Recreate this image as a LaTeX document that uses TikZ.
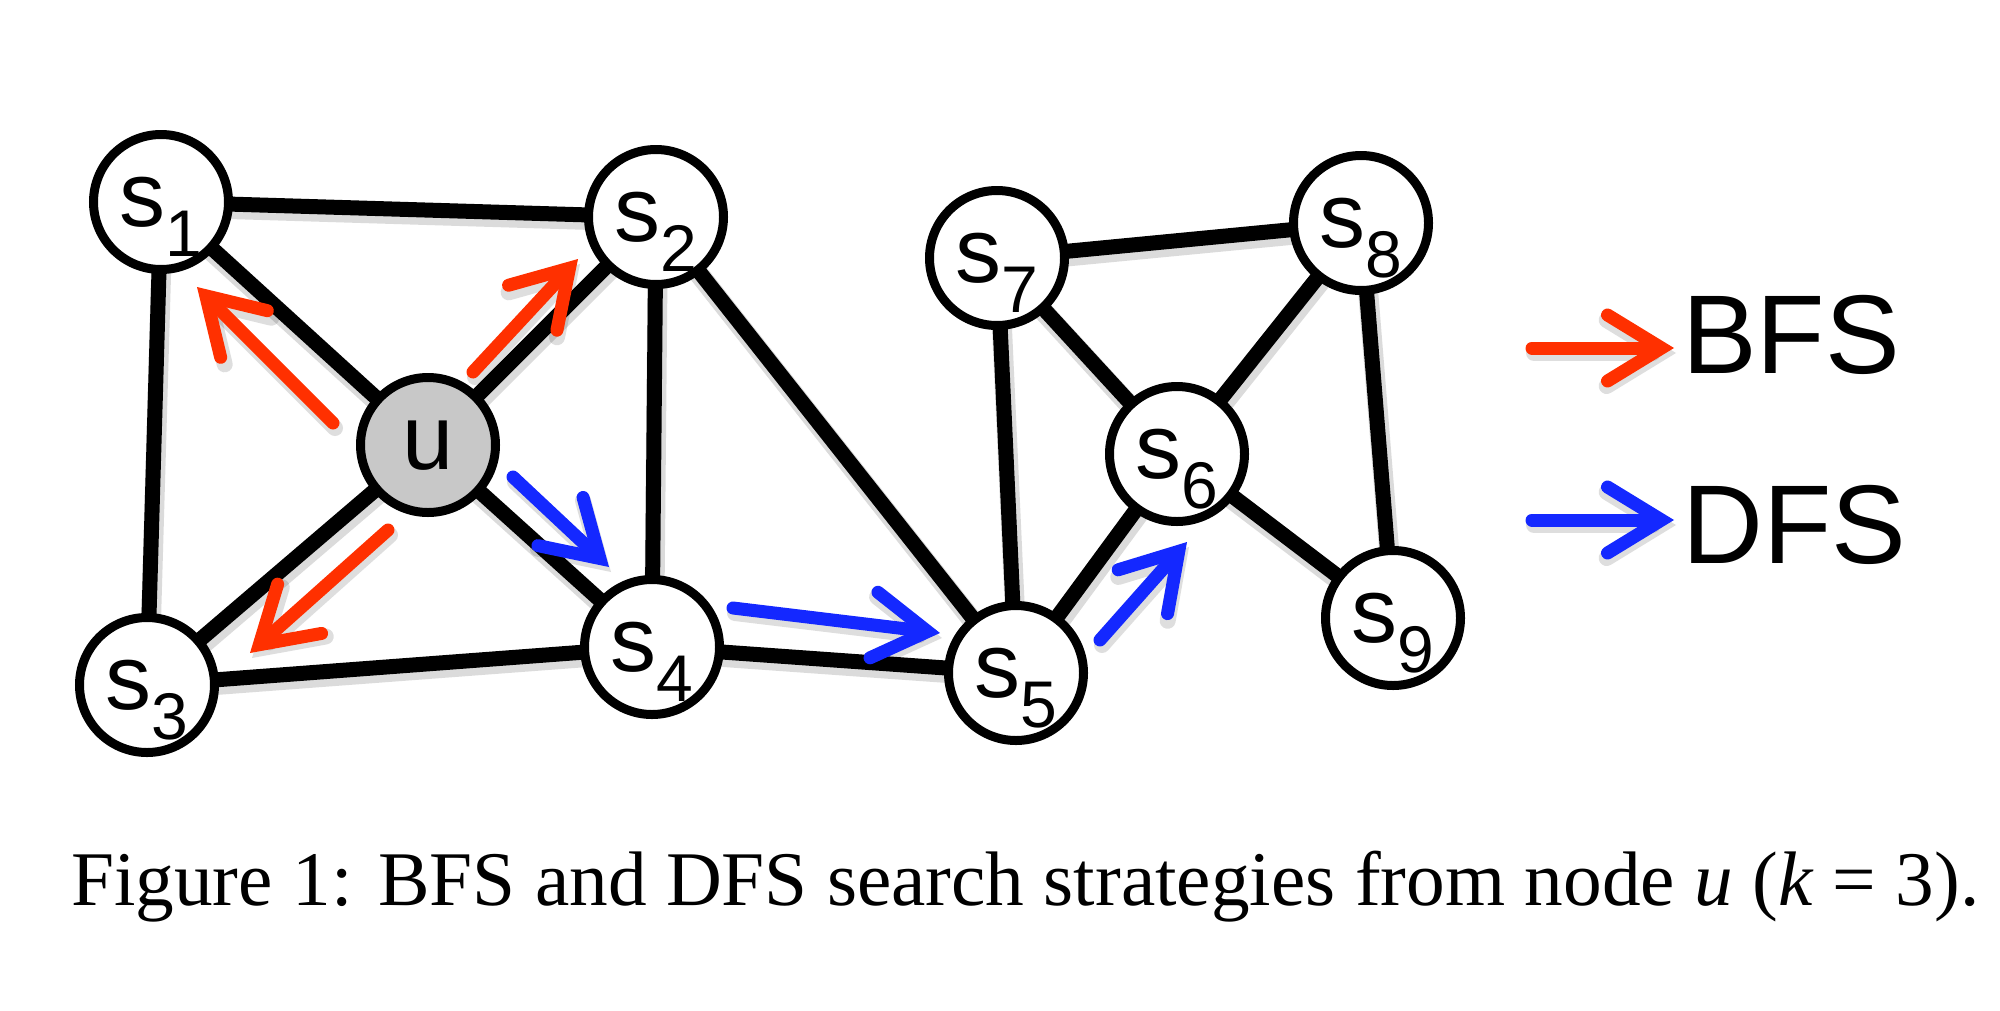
\documentclass[tikz,border=0pt]{standalone}
\usepackage{fontspec}
\setmainfont{Liberation Serif}
\newfontfamily\arialf{Liberation Sans}
\usetikzlibrary{arrows.meta}
\definecolor{bfsred}{RGB}{255,48,0}
\definecolor{dfsblue}{RGB}{20,40,255}
\definecolor{ugray}{RGB}{200,200,200}
\pgfdeclarelayer{bg}
\pgfsetlayers{bg,main}
\newcommand{\slbl}[1]{s\raisebox{-30pt}{\fontsize{66}{66}\selectfont #1}}
\newcommand{\edg}[2]{%
  \draw[edgeshadow] ([xshift=2pt,yshift=-5pt]#1.center) -- ([xshift=2pt,yshift=-5pt]#2.center);%
  \draw[edge] (#1) -- (#2);}
\newcommand{\trv}[3]{%
  \draw[#1,draw=black,opacity=0.13,line width=16pt,-{Straight Barb[length=54pt,width=66pt,line width=16pt,line cap=round,line join=miter]}]
    ([xshift=2pt,yshift=-5pt]#2) -- ([xshift=2pt,yshift=-5pt]#3);%
  \draw[#1] (#2) -- (#3);}
\begin{document}
\begin{tikzpicture}[x=1pt,y=-1pt,
  vert/.style={circle,draw=black,line width=9pt,fill=white,minimum size=135pt,
    inner sep=0pt,outer sep=0pt,font=\arialf\fontsize{92}{92}\selectfont,
    text height=48pt,text depth=0pt},
  edge/.style={line width=15pt,black},
  edgeshadow/.style={line width=20pt,black,opacity=0.14},
  trav/.style={line width=13pt,line cap=round,
    -{Straight Barb[length=54pt,width=66pt,line width=13pt,line cap=round,line join=miter]}},
  bfs/.style={trav,draw=bfsred},
  dfs/.style={trav,draw=dfsblue},
  legtext/.style={anchor=base west,inner sep=0pt,font=\arialf\fontsize{112}{112}\selectfont}
]
\useasboundingbox (0,0) rectangle (2000,1010);
% vertices
\node[vert] (s1) at (161,202) {\slbl{1}};
\node[vert] (s2) at (656,217) {\slbl{2}};
\node[vert,fill=ugray] (u) at (428,445) {u};
\node[vert] (s3) at (147,685) {\slbl{3}};
\node[vert] (s4) at (652,647) {\slbl{4}};
\node[vert] (s5) at (1016,673) {\slbl{5}};
\node[vert] (s6) at (1177,454) {\slbl{6}};
\node[vert] (s7) at (997,258) {\slbl{7}};
\node[vert] (s8) at (1361,223) {\slbl{8}};
\node[vert] (s9) at (1393,618) {\slbl{9}};
% edges
\begin{pgfonlayer}{bg}
\edg{s1}{s2}
\edg{s1}{u}
\edg{s1}{s3}
\edg{u}{s2}
\edg{u}{s3}
\edg{u}{s4}
\edg{s2}{s4}
\edg{s2}{s5}
\edg{s3}{s4}
\edg{s4}{s5}
\edg{s5}{s7}
\edg{s5}{s6}
\edg{s6}{s7}
\edg{s6}{s8}
\edg{s6}{s9}
\edg{s7}{s8}
\edg{s8}{s9}
\end{pgfonlayer}
% traversal arrows
\coordinate (b1a) at (333,423); \coordinate (b1b) at (197,287);
\coordinate (b2a) at (473,372); \coordinate (b2b) at (578,259);
\coordinate (b3a) at (388,530); \coordinate (b3b) at (250,653);
\coordinate (d1a) at (513,477); \coordinate (d1b) at (609,567);
\coordinate (d2a) at (733,608); \coordinate (d2b) at (940,633);
\coordinate (d3a) at (1100,640); \coordinate (d3b) at (1187,542);
\trv{bfs}{b1a}{b1b}
\trv{bfs}{b2a}{b2b}
\trv{bfs}{b3a}{b3b}
\trv{dfs}{d1a}{d1b}
\trv{dfs}{d2a}{d2b}
\trv{dfs}{d3a}{d3b}
% legend
\node[legtext] (lb) at (1682,373) {BFS};
\node[legtext] (ld) at (1682,563) {DFS};
\coordinate (lba) at (1532,348); \coordinate (lbb) at (1674,348);
\coordinate (lda) at (1532,520); \coordinate (ldb) at (1674,520);
\trv{bfs}{lba}{lbb}
\trv{dfs}{lda}{ldb}
% caption
\node[anchor=base west,inner sep=0pt,font=\fontsize{77.3}{77.3}\selectfont] (cap) at (71,905)
  {Figure 1: BFS and DFS search strategies from node \textit{u} (\textit{k}~=~3).};
\end{tikzpicture}
\end{document}
